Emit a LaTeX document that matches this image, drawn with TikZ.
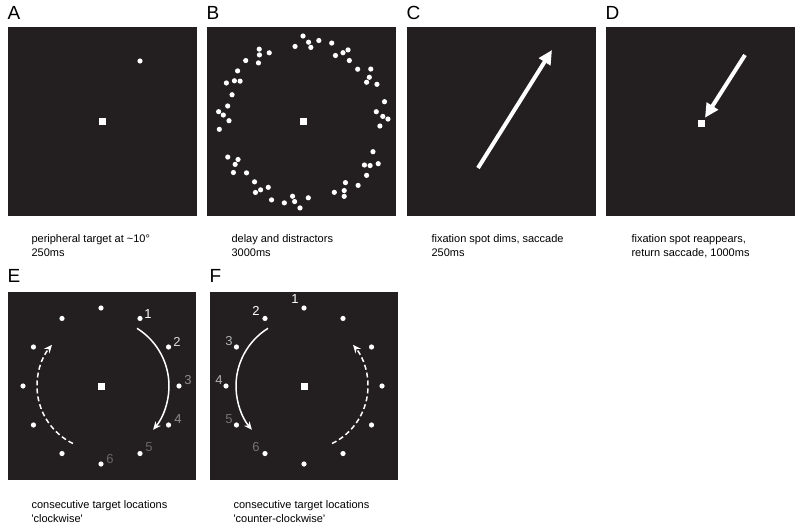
\documentclass[tikz,border=0pt]{standalone}
\usepackage{fontspec}
\setmainfont{Liberation Sans}
\usetikzlibrary{arrows.meta,calc}
\definecolor{panel}{HTML}{231F20}
\begin{document}
\begin{tikzpicture}[x=1pt,y=-1pt,
  dot/.style={circle,fill=white,inner sep=0pt,minimum size=5.2pt},
  fix/.style={fill=white,inner sep=0pt,minimum size=7pt},
  letter/.style={anchor=west,font=\fontsize{19}{19}\selectfont},
  captext/.style={anchor=north west,align=left,font=\fontsize{11}{13.5}\selectfont},
  num/.style={font=\fontsize{13}{13}\selectfont,inner sep=0pt},
  bigarrow/.style={white,line width=4pt,-{Triangle[length=14pt,width=13pt]}},
  arcarrow/.style={white,line width=1.5pt,-{Stealth[length=8pt,width=7pt]}}]
\useasboundingbox (0,0) rectangle (800,524);
% panels
\foreach \x/\L in {8/A,207/B,407/C,606/D}{
  \fill[panel] (\x,27) rectangle ++(189,189);
  \node[letter] at (\x-4,13) {\L};
}
\fill[panel] (8,292) rectangle ++(188,188);
\fill[panel] (210,292) rectangle ++(188,188);
\node[letter] at (4,276) {E};
\node[letter] at (206,276) {F};
% A
\node[fix] (fa) at (102,122) {};
\node[dot] (ta) at (140,61) {};
% B
\node[fix] (fb) at (303,122) {};
\foreach \a/\k in {0/0,30/1,60/2,90/3,120/4,150/5,180/6,210/7,240/8,270/9,300/10,330/11}{
  \foreach \da/\dr in {-9/-4,-3/6,3/-5,8/3,1/0}{
    \pgfmathsetmacro\ang{\a+\da+mod(\k*7,11)-5}
    \pgfmathsetmacro\rr{80+\dr*(mod(\k,2)*2-1)}
    \node[dot] at ($(303,122)+(\ang:\rr)$) {};
  }
}
% C
\node[fix,fill=panel] (fc) at (501,122) {};
\coordinate (cs) at (478,168);
\coordinate (ce) at (552,50);
\draw[bigarrow] (cs) -- (ce);
% D
\node[fix] (fd) at (701,124) {};
\coordinate (ds) at (745,55);
\draw[bigarrow,shorten >=3pt] (ds) -- (fd);
% captions
\node[captext] at (28,231) {peripheral target at \textasciitilde10°\\250ms};
\node[captext] at (228,231) {delay and distractors\\3000ms};
\node[captext] at (428,231) {fixation spot dims, saccade\\250ms};
\node[captext] at (628,231) {fixation spot reappears,\\return saccade, 1000ms};
\node[captext] at (28,497) {consecutive target locations\\\textquotesingle clockwise\textquotesingle};
\node[captext] at (230,497) {consecutive target locations\\\textquotesingle counter-clockwise\textquotesingle};
% E
\node[fix] (fe) at (101,386) {};
\foreach \i in {0,...,11}{ \node[dot] (e\i) at ($(101,386)+(-90+\i*30:78)$) {}; }
\node[num,text=white] at (148,314) {1};
\node[num,text=white!85!black] at (177,342) {2};
\node[num,text=white!55!black] at (188,380) {3};
\node[num,text=white!55!black] at (178,419) {4};
\node[num,text=white!40!black] at (149,447) {5};
\node[num,text=white!40!black] at (110,459) {6};
\draw[arcarrow] ($(101,386)+(-58:68)$) arc[start angle=-58,end angle=40,radius=68];
\draw[arcarrow,dashed,dash pattern=on 5pt off 3pt] ($(101,386)+(116:64)$) arc[start angle=116,end angle=220,radius=64];
% F
\node[fix] (ff) at (304,386) {};
\foreach \i in {0,...,11}{ \node[dot] (f\i) at ($(304,386)+(-90+\i*30:78)$) {}; }
\node[num,text=white] at (295,299) {1};
\node[num,text=white] at (256,311) {2};
\node[num,text=white!70!black] at (229,341) {3};
\node[num,text=white!70!black] at (219,380) {4};
\node[num,text=white!45!black] at (229,419) {5};
\node[num,text=white!45!black] at (256,447) {6};
\draw[arcarrow] ($(304,386)+(-122:68)$) arc[start angle=-122,end angle=-220,radius=68];
\draw[arcarrow,dashed,dash pattern=on 5pt off 3pt] ($(304,386)+(64:64)$) arc[start angle=64,end angle=-40,radius=64];
\end{tikzpicture}
\end{document}
